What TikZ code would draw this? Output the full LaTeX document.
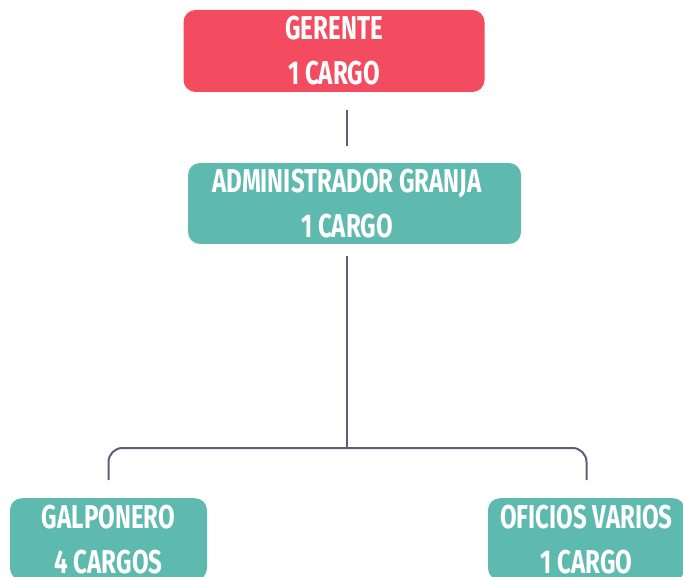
\documentclass[tikz,border=0pt]{standalone}
\usepackage{fontspec}
\setmainfont{Fira Sans}[FakeStretch=0.73]
\usetikzlibrary{calc, positioning}
\definecolor{jefe}{HTML}{F34C60}
\definecolor{cargo}{HTML}{5EB9AE}
\definecolor{linea}{HTML}{5B6079}
\tikzset{
  caja/.style={rounded corners=12pt, text=white, align=center, inner sep=0pt,
    font=\bfseries\fontsize{33}{45}\selectfont},
  enlace/.style={draw=linea, line width=2pt}
}

\begin{document}
\begin{tikzpicture}[x=1pt, y=1pt]
\useasboundingbox (0,0) rectangle (683,-577);
\clip (0,0) rectangle (683,-577);
% nodes %
\node[caja, fill=jefe, minimum width=301pt, minimum height=82pt] (gerente) at (334,-51) {GERENTE\\1 CARGO};
\node[caja, fill=cargo, minimum width=333pt, minimum height=81pt] (admin) at (354.5,-203.5) {\hspace*{-15pt}ADMINISTRADOR GRANJA\\\hspace*{-15pt}1 CARGO};
\node[caja, fill=cargo, minimum width=197pt, minimum height=82pt, anchor=north] (galpon) at (108.5,-498) {GALPONERO\\4 CARGOS};
\node[caja, fill=cargo, minimum width=197pt, minimum height=82pt, anchor=north] (oficios) at (586.5,-498) {OFICIOS VARIOS\\1 CARGO};
\coordinate (eje) at (347,0);
\coordinate (reparto) at (347,-448);
% edges %
\draw[enlace, shorten <=18pt, shorten >=17pt] (gerente.south -| eje) -- (admin.north -| eje);
\draw[enlace, shorten <=12pt] (admin.south -| eje) -- (reparto);
\draw[enlace, rounded corners=14pt, shorten <=18pt, shorten >=18pt] (galpon.north) |- (reparto) -| (oficios.north);
\end{tikzpicture}
\end{document}
